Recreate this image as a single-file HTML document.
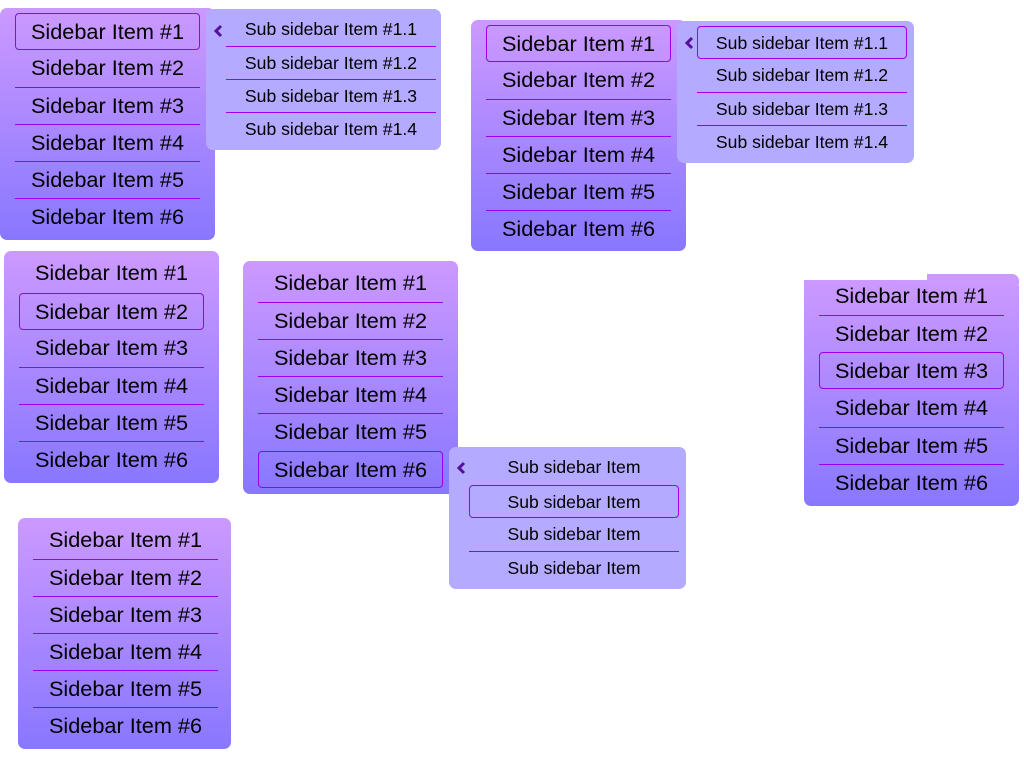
<!DOCTYPE html>
<html><head><meta charset="utf-8"><style>
body{margin:0;width:1024px;height:768px;background:#fff;position:relative;overflow:hidden;font-family:"Liberation Sans",Arial,sans-serif;color:#000}
.p{position:absolute;width:215px;height:232px;border-radius:7px;background:linear-gradient(#cc99ff,#8877ff)}
.s{position:absolute;width:235px;height:141px;border-radius:7px;background:#b4aaff}
.i{position:absolute;left:15px;width:185px;height:37px;line-height:36px;text-align:center;font-size:21.7px;box-sizing:border-box;white-space:nowrap}
.s .i{left:20px;width:210px;height:33px;line-height:32px;font-size:17.6px}
.l{border-top:1px solid #9a00ee}
.sel{border:1px solid #9a00ee;border-radius:4px}
.c{position:absolute;left:7px;width:10px;height:14px}
</style></head><body>

<div class="p" style="left:0;top:8px">
<div class="i sel" style="top:5px">Sidebar Item #1</div>
<div class="i" style="top:42px">Sidebar Item #2</div>
<div class="i l" style="top:79px">Sidebar Item #3</div>
<div class="i l" style="top:116px">Sidebar Item #4</div>
<div class="i l" style="top:153px">Sidebar Item #5</div>
<div class="i l" style="top:190px">Sidebar Item #6</div>
</div>
<div class="s" style="left:206px;top:9px">
<svg class="c" style="top:15px" viewBox="0 0 10 14"><path d="M8 2 L3 7 L8 12" stroke="#551199" stroke-width="3" fill="none"/></svg>
<div class="i" style="top:4px">Sub sidebar Item #1.1</div>
<div class="i l" style="top:37px">Sub sidebar Item #1.2</div>
<div class="i l" style="top:70px">Sub sidebar Item #1.3</div>
<div class="i l" style="top:103px">Sub sidebar Item #1.4</div>
</div>

<div class="p" style="left:471px;top:20px;height:231px">
<div class="i sel" style="top:5px">Sidebar Item #1</div>
<div class="i" style="top:42px">Sidebar Item #2</div>
<div class="i l" style="top:79px">Sidebar Item #3</div>
<div class="i l" style="top:116px">Sidebar Item #4</div>
<div class="i l" style="top:153px">Sidebar Item #5</div>
<div class="i l" style="top:190px">Sidebar Item #6</div>
</div>
<div class="s" style="left:677px;top:21px;width:237px;height:142px">
<svg class="c" style="top:15px" viewBox="0 0 10 14"><path d="M8 2 L3 7 L8 12" stroke="#551199" stroke-width="3" fill="none"/></svg>
<div class="i sel" style="top:5px">Sub sidebar Item #1.1</div>
<div class="i" style="top:38px">Sub sidebar Item #1.2</div>
<div class="i l" style="top:71px">Sub sidebar Item #1.3</div>
<div class="i l" style="top:104px">Sub sidebar Item #1.4</div>
</div>

<div class="p" style="left:4px;top:251px">
<div class="i" style="top:4px">Sidebar Item #1</div>
<div class="i sel" style="top:42px">Sidebar Item #2</div>
<div class="i" style="top:79px">Sidebar Item #3</div>
<div class="i l" style="top:116px">Sidebar Item #4</div>
<div class="i l" style="top:153px">Sidebar Item #5</div>
<div class="i l" style="top:190px">Sidebar Item #6</div>
</div>

<div class="p" style="left:243px;top:261px;height:233px">
<div class="i" style="top:4px">Sidebar Item #1</div>
<div class="i l" style="top:41px">Sidebar Item #2</div>
<div class="i l" style="top:78px">Sidebar Item #3</div>
<div class="i l" style="top:115px">Sidebar Item #4</div>
<div class="i l" style="top:152px">Sidebar Item #5</div>
<div class="i sel" style="top:190px">Sidebar Item #6</div>
</div>
<div class="s" style="left:449px;top:447px;width:237px;height:142px">
<svg class="c" style="top:14px" viewBox="0 0 10 14"><path d="M8 2 L3 7 L8 12" stroke="#551199" stroke-width="3" fill="none"/></svg>
<div class="i" style="top:4px">Sub sidebar Item</div>
<div class="i sel" style="top:38px">Sub sidebar Item</div>
<div class="i" style="top:71px">Sub sidebar Item</div>
<div class="i l" style="top:104px">Sub sidebar Item</div>
</div>

<div class="p" style="left:804px;top:280px;height:226px;border-top-left-radius:0">
<div style="position:absolute;left:123px;top:-6px;width:92px;height:10px;background:#cc99ff;border-radius:0 7px 0 0"></div>
<div class="i" style="top:-2px">Sidebar Item #1</div>
<div class="i l" style="top:35px">Sidebar Item #2</div>
<div class="i sel" style="top:72px">Sidebar Item #3</div>
<div class="i" style="top:110px">Sidebar Item #4</div>
<div class="i l" style="top:147px">Sidebar Item #5</div>
<div class="i l" style="top:184px">Sidebar Item #6</div>
</div>

<div class="p" style="left:18px;top:518px;width:213px;height:231px">
<div class="i" style="top:4px">Sidebar Item #1</div>
<div class="i l" style="top:41px">Sidebar Item #2</div>
<div class="i l" style="top:78px">Sidebar Item #3</div>
<div class="i l" style="top:115px">Sidebar Item #4</div>
<div class="i l" style="top:152px">Sidebar Item #5</div>
<div class="i l" style="top:189px">Sidebar Item #6</div>
</div>
</body></html>
